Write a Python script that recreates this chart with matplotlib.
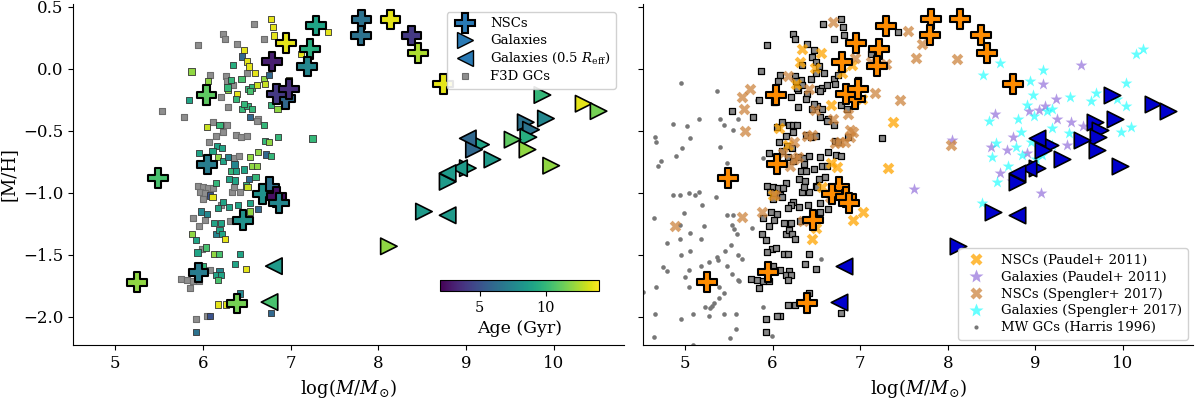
import numpy as np
import matplotlib
matplotlib.use('Agg')
import matplotlib.pyplot as plt
from matplotlib.lines import Line2D

plt.rcParams['font.family'] = ['DejaVu Serif']
plt.rcParams['mathtext.fontset'] = 'dejavuserif'

nan = np.nan

# F3D globular clusters: log mass, [M/H], age (nan = no age -> grey)
gc_logm = [6.58, 6.78, 6.80, 6.81, 7.43, 6.23, 6.25, 6.39, 6.70, 5.94, 6.47, 6.45, 6.50, 6.53, 6.59,
           6.34, 7.12, 5.87, 6.08, 6.06, 6.26, 6.32, 6.27, 6.44, 6.50, 6.34, 6.29, 6.28, 6.39, 6.38,
           6.52, 6.56, 6.62, 6.54, 6.70, 6.71, 6.75, 6.98, 5.84, 6.02, 6.21, 6.29, 6.45, 6.51, 6.56,
           6.47, 6.78, 6.85, 5.54, 5.78, 6.54, 6.63,
           6.05, 6.11, 6.19, 6.23, 6.28, 6.62, 6.70, 6.86, 7.25, 6.15, 6.23, 6.07, 6.38, 6.44, 6.50,
           6.71, 6.75, 6.16, 6.22, 6.11, 5.96, 6.17, 6.23, 6.29, 6.36, 6.41, 6.36, 6.32, 6.38, 6.47,
           6.54, 6.63, 6.72, 6.78, 6.56, 6.62, 6.30, 6.37, 6.15, 5.94, 6.00, 6.06, 6.12, 5.97, 6.02,
           6.08, 6.11, 6.00, 6.33, 6.42, 6.36, 6.53, 6.60, 6.49, 6.51, 6.23, 6.21, 6.30, 6.40, 6.54,
           6.54, 6.63, 6.17, 5.89, 5.98, 6.05, 6.02, 6.13, 6.21, 6.31,
           5.96, 5.88, 5.92, 6.15, 6.19, 6.22, 6.25, 5.99, 6.04, 5.94, 6.13, 6.18, 6.42, 6.37, 6.49,
           6.08, 6.00, 6.19, 6.15, 6.21, 6.17, 5.75, 5.82, 5.89, 5.96, 5.85, 6.42, 6.17, 6.26, 6.78,
           5.92, 6.08, 6.05, 5.92]
gc_mh = [0.36, 0.40, 0.34, 0.27, 0.30, 0.28, 0.24, 0.20, 0.24, 0.19, 0.15, 0.10, 0.06, 0.02, -0.03,
         0.03, 0.12, -0.02, -0.05, -0.10, -0.06, -0.09, -0.10, -0.08, -0.03, -0.13, -0.17, -0.15, -0.20, -0.24,
         -0.16, -0.15, -0.13, -0.18, -0.08, -0.12, -0.05, -0.09, -0.25, -0.27, -0.23, -0.31, -0.32, -0.30, -0.32,
         -0.28, -0.29, -0.32, -0.34, -0.39, -0.39, -0.40,
         -0.47, -0.43, -0.45, -0.45, -0.45, -0.42, -0.45, -0.55, -0.56, -0.54, -0.51, -0.59, -0.53, -0.55, -0.54,
         -0.58, -0.59, -0.62, -0.64, -0.66, -0.68, -0.71, -0.74, -0.71, -0.72, -0.70, -0.77, -0.82, -0.82, -0.81,
         -0.71, -0.67, -0.69, -0.70, -0.78, -0.78, -0.89, -0.90, -0.92, -0.94, -0.95, -0.96, -0.96, -0.99, -1.00,
         -1.02, -1.03, -1.05, -0.99, -0.99, -0.95, -0.89, -0.87, -0.94, -0.95, -1.07, -1.10, -1.11, -1.10, -1.08,
         -1.15, -1.13, -1.12, -1.20, -1.15, -1.17, -1.22, -1.24, -1.24, -1.23,
         -1.27, -1.33, -1.38, -1.33, -1.30, -1.33, -1.37, -1.45, -1.44, -1.48, -1.49, -1.49, -1.49, -1.57, -1.61,
         -1.62, -1.59, -1.63, -1.66, -1.66, -1.70, -1.69, -1.70, -1.71, -1.71, -1.77, -1.81, -1.90, -1.90, -1.97,
         -2.02, -1.99, -1.99, -2.12]
gc_age = [nan, 13.5, 13.5, 13.5, 13.5, nan, nan, nan, nan, nan, 13.5, 6, 13.5, 13.5, 13.5,
          9.5, 13.5, 12, nan, 12, nan, 10, nan, 10.5, nan, nan, 12, 10, 13.5, 10,
          10, 10, 13, 10.5, 12, 13, 6, 13.5, 9, nan, nan, nan, 10, 10, 10,
          10, 10, 12, nan, nan, 6, nan,
          13, nan, 10, nan, nan, nan, 10, 10, 10, nan, nan, nan, nan, nan, nan,
          10, 12, 9, 9, 9, 9, 12, 9, 7.5, nan, nan, 7.5, 10, 9, 9,
          12, 12, 6, 10, 12, 12, 9, 9, 10, nan, nan, nan, nan, nan, nan,
          5, 13.5, nan, nan, nan, nan, 6, 10, 10, 13, 9, nan, 9, 9, 9,
          12, 6, 9, nan, 7.5, 7.5, nan, 9, 9, nan,
          nan, 12, 9, 7.5, 9, 9, 13.5, nan, 10.5, 9, 12, 10.5, 9, 9, 13.5,
          nan, 10, 7.5, 9, 9, 10.5, nan, nan, nan, nan, nan, 7.5, 13.5, 13.5, 6,
          nan, 5, nan, 6.5]

# nuclear star clusters
nsc_logm = [6.94, 8.14, 7.81, 7.80, 7.29, 6.95, 7.22, 7.19, 6.79, 6.84, 6.98, 6.04, 6.05, 5.49,
            6.76, 6.68, 6.84, 6.87, 6.46, 5.95, 5.25, 6.39, 8.38, 8.45, 8.74]
nsc_mh = [-0.24, 0.40, 0.40, 0.27, 0.35, 0.21, 0.16, 0.02, 0.06, -0.20, -0.16, -0.21, -0.77, -0.88,
          -0.95, -1.01, -1.03, -1.08, -1.22, -1.64, -1.72, -1.89, 0.27, 0.13, -0.12]
nsc_age = [6, 13.5, 6.5, 6.5, 9, 13.5, 9.5, 7.5, 3, 4, 3.5, 11, 7, 10.5,
           6.5, 8, 2.5, 7.5, 8, 7, 12, 11.5, 4, 12.5, 13.5]

# host galaxies
gal_logm = [9.87, 10.34, 10.51, 9.91, 9.68, 9.74, 9.71, 9.53, 9.70, 9.97, 9.30, 9.17, 9.09, 9.02,
            8.79, 8.52, 8.12]
gal_mh = [-0.21, -0.28, -0.34, -0.40, -0.43, -0.49, -0.55, -0.57, -0.65, -0.78, -0.73, -0.61, -0.65,
          -0.80, -0.91, -1.15, -1.43]
gal_age = [10, 13.5, 11.5, 7.5, 6.5, 6.5, 9.5, 11, 12, 12, 8.5, 9, 6, 9, 8.5, 8.5, 12]

# galaxies within 0.5 Reff
galr_logm = [9.02, 8.92, 8.79, 8.79, 6.81, 6.76]
galr_mh = [-0.56, -0.80, -0.84, -1.18, -1.59, -1.88]
galr_age = [6, 8.5, 8.5, 8.5, 8.5, 10.5]

# Harris 1996 MW GCs
mw_logm = [4.95, 5.37, 4.86, 5.02, 5.16, 5.40, 5.44, 5.60, 5.55, 4.66, 4.67, 5.06, 4.97, 5.40, 4.90,
           4.73, 4.69, 5.48, 4.86, 4.94, 5.05, 5.11, 5.16, 5.19, 5.35, 4.65, 4.99, 5.48, 5.22, 4.94,
           5.06, 5.18, 4.79, 4.94, 5.54, 5.56, 5.59, 5.53, 5.46, 5.36, 5.38, 5.60, 5.65, 5.06, 4.95,
           4.75, 4.79, 5.05, 5.18, 5.27, 5.48, 5.54, 5.60, 5.62, 5.00, 5.04, 4.67, 5.39, 5.44, 5.39,
           5.33, 5.31, 5.28, 5.23, 5.27, 5.09, 4.66, 4.95, 5.45, 5.58, 5.58, 5.51, 4.64, 5.09, 4.52,
           5.89, 5.99, 6.55, 5.89, 5.77, 5.82, 5.55]
mw_mh = [-0.11, -0.18, -0.44, -0.46, -0.40, -0.40, -0.45, -0.40, -0.49, -0.55, -0.59, -0.56, -0.64, -0.63, -0.70,
         -0.74, -0.78, -0.76, -1.02, -1.02, -1.00, -1.02, -0.99, -1.10, -1.03, -1.20, -1.16, -1.18, -1.27, -1.26,
         -1.32, -1.37, -1.40, -1.37, -1.26, -1.29, -1.33, -1.42, -1.47, -1.52, -1.54, -1.50, -1.53, -1.47, -1.50,
         -1.60, -1.63, -1.62, -1.59, -1.56, -1.59, -1.65, -1.70, -1.71, -1.68, -1.76, -1.76, -1.76, -1.81, -1.85,
         -1.89, -1.91, -1.93, -1.92, -1.99, -1.98, -1.98, -2.02, -1.98, -1.98, -2.10, -2.17, -2.16, -2.23, -1.80,
         -1.92, -2.15, -1.53, -0.72, -1.28, -0.25, -1.18]

# Paudel+ 2011
pau_nsc_logm = [6.34, 6.31, 6.55, 6.48, 6.27, 6.67, 7.02, 6.91, 6.79, 7.38, 7.32, 6.07, 6.17, 6.67,
                6.73, 6.56, 6.01, 6.92, 7.03, 6.45, 6.50]
pau_nsc_mh = [0.16, 0.06, 0.13, 0.01, -0.12, -0.29, -0.24, 0.03, -0.03, -0.43, -0.80, -0.48, -0.61, -0.76,
              -0.79, -0.95, -1.02, -1.22, -1.15, -1.37, -1.28]
pau_gal_logm = [9.52, 9.09, 9.24, 8.54, 9.11, 9.04, 8.93, 9.25, 9.41, 9.54, 8.75, 8.49, 8.68, 8.05,
                8.90, 9.36, 8.60, 8.73, 8.82, 9.07, 7.61]
pau_gal_mh = [0.03, -0.12, -0.24, -0.36, -0.30, -0.33, -0.34, -0.40, -0.43, -0.46, -0.55, -0.63, -0.65, -0.57,
              -0.68, -0.61, -0.84, -0.90, -0.87, -1.00, -0.97]

# Spengler+ 2017
spe_nsc_logm = [6.69, 7.55, 7.64, 6.94, 7.12, 7.30, 6.18, 5.74, 5.65, 5.67, 5.68, 6.41, 7.17, 7.45,
                6.48, 6.69, 6.86, 6.88, 6.92, 6.88, 6.39, 6.45, 6.24, 6.71, 6.77, 6.83, 6.12, 6.24,
                6.29, 6.20, 6.03, 5.88, 5.65, 4.89, 6.35, 6.65, 7.71, 8.11, 8.04]
spe_nsc_mh = [0.38, 0.31, 0.09, 0.09, 0.06, 0.04, -0.06, -0.16, -0.23, -0.32, -0.50, -0.16, -0.19, -0.25,
              -0.33, -0.40, -0.36, -0.49, -0.51, -0.55, -0.54, -0.53, -0.59, -0.60, -0.59, -0.59, -0.68, -0.73,
              -0.71, -0.78, -1.02, -1.15, -1.19, -1.27, -1.23, -1.03, 0.20, 0.08, -0.61]
spe_gal_logm = [10.23, 10.15, 8.60, 8.40, 9.09, 8.94, 10.04, 9.69, 8.97, 9.39, 9.64, 9.93, 10.04, 8.90,
                9.19, 9.13, 8.98, 8.80, 8.47, 9.19, 8.84, 9.38, 9.98, 10.09, 8.55, 8.78, 8.95, 8.50,
                8.85, 9.01, 8.69, 8.56, 8.39, 9.19, 9.08]
spe_gal_mh = [0.16, 0.12, 0.05, -0.05, -0.01, -0.10, -0.11, -0.19, -0.21, -0.23, -0.26, -0.24, -0.30, -0.29,
              -0.32, -0.34, -0.38, -0.40, -0.42, -0.48, -0.51, -0.52, -0.51, -0.47, -0.60, -0.63, -0.59, -0.71,
              -0.69, -0.73, -0.78, -0.91, -1.08, -0.61, -0.69]

gc_logm = np.array(gc_logm)
gc_mh = np.array(gc_mh)
gc_age = np.array(gc_age)
has_age = ~np.isnan(gc_age)

cmap = 'viridis'
vmin, vmax = 2, 14

fig = plt.figure(figsize=(12, 3.98), dpi=100)
W, H = 1200, 398
ax1 = fig.add_axes([73 / W, 1 - 345 / H, 551 / W, 341 / H])
ax2 = fig.add_axes([643 / W, 1 - 345 / H, 550 / W, 341 / H], sharey=ax1)

# ---- left panel
ax1.scatter(gc_logm[~has_age], gc_mh[~has_age], s=20, marker='s', c='#8e8e8e',
            edgecolors='#6e6e6e', linewidths=0.8, zorder=2)
sc = ax1.scatter(gc_logm[has_age], gc_mh[has_age], s=20, marker='s', c=gc_age[has_age],
                 cmap=cmap, vmin=vmin, vmax=vmax, edgecolors='#333333', linewidths=0.6, zorder=2)
ax1.scatter(gal_logm, gal_mh, s=140, marker='>', c=gal_age, cmap=cmap, vmin=vmin, vmax=vmax,
            edgecolors='k', linewidths=1.2, zorder=3)
ax1.scatter(galr_logm, galr_mh, s=140, marker='<', c=galr_age, cmap=cmap, vmin=vmin, vmax=vmax,
            edgecolors='k', linewidths=1.2, zorder=3)
ax1.scatter(nsc_logm, nsc_mh, s=200, marker='P', c=nsc_age, cmap=cmap, vmin=vmin, vmax=vmax,
            edgecolors='k', linewidths=1.5, zorder=4)

hcol = '#2a7ab5'
h1 = [Line2D([], [], ls='', marker='P', ms=14, mfc=hcol, mec='k', mew=1.5),
      Line2D([], [], ls='', marker='>', ms=11, mfc=hcol, mec='k', mew=1.0),
      Line2D([], [], ls='', marker='<', ms=11, mfc=hcol, mec='k', mew=1.0),
      Line2D([], [], ls='', marker='s', ms=4, mfc='#8e8e8e', mec='#6e6e6e', mew=0.8)]
ax1.legend(h1, ['NSCs', 'Galaxies', r'Galaxies (0.5 $R_{\rm eff}$)', 'F3D GCs'],
           loc='upper right', fontsize=9.5, handletextpad=0.9, borderaxespad=0.6,
           labelspacing=0.3, framealpha=0.9)

cax = fig.add_axes([440 / W, 1 - 291 / H, 159 / W, 11 / H])
cb = fig.colorbar(sc, cax=cax, orientation='horizontal', ticks=[5, 10])
cb.set_label('Age (Gyr)', fontsize=12.5)
cb.ax.tick_params(labelsize=10.5)

# ---- right panel
ax2.scatter(mw_logm, mw_mh, s=11, marker='o', c='#777777', linewidths=0, zorder=1)
ax2.scatter(gc_logm, gc_mh, s=24, marker='s', c='#888888', edgecolors='k', linewidths=0.9, zorder=2)
ax2.scatter(pau_nsc_logm, pau_nsc_mh, s=70, marker='X', c='orange', alpha=0.75, linewidths=0, zorder=3)
ax2.scatter(pau_gal_logm, pau_gal_mh, s=80, marker='*', c='mediumpurple', alpha=0.7, linewidths=0, zorder=3)
ax2.scatter(spe_nsc_logm, spe_nsc_mh, s=70, marker='X', c='peru', alpha=0.75, linewidths=0, zorder=3)
ax2.scatter(spe_gal_logm, spe_gal_mh, s=80, marker='*', c='cyan', alpha=0.6, linewidths=0, zorder=3)
ax2.scatter(gal_logm, gal_mh, s=140, marker='>', c='mediumblue', edgecolors='k', linewidths=1.2, zorder=4)
ax2.scatter(galr_logm, galr_mh, s=140, marker='<', c='mediumblue', edgecolors='k', linewidths=1.2, zorder=4)
ax2.scatter(nsc_logm, nsc_mh, s=200, marker='P', c='darkorange', edgecolors='k', linewidths=1.5, zorder=5)

h2 = [Line2D([], [], ls='', marker='X', ms=8, mfc='orange', mec='none', alpha=0.75),
      Line2D([], [], ls='', marker='*', ms=10, mfc='mediumpurple', mec='none', alpha=0.7),
      Line2D([], [], ls='', marker='X', ms=8, mfc='peru', mec='none', alpha=0.75),
      Line2D([], [], ls='', marker='*', ms=10, mfc='cyan', mec='none', alpha=0.6),
      Line2D([], [], ls='', marker='o', ms=3, mfc='#777777', mec='none')]
ax2.legend(h2, ['NSCs (Paudel+ 2011)', 'Galaxies (Paudel+ 2011)', 'NSCs (Spengler+ 2017)',
                'Galaxies (Spengler+ 2017)', 'MW GCs (Harris 1996)'],
           loc='lower right', fontsize=9.5, handletextpad=0.9, borderaxespad=0.4,
           labelspacing=0.3, framealpha=0.9)

for ax in (ax1, ax2):
    ax.set_xlim(4.52, 10.80)
    ax.set_xticks([5, 6, 7, 8, 9, 10])
    ax.spines['top'].set_visible(False)
    ax.spines['right'].set_visible(False)
    ax.tick_params(labelsize=12)
    ax.set_xlabel(r'log($M/M_{\odot}$)', fontsize=13)
ax1.set_ylim(-2.226, 0.524)
ax1.set_yticks([-2.0, -1.5, -1.0, -0.5, 0.0, 0.5])
ax1.set_ylabel('[M/H]', fontsize=13)
plt.setp(ax2.get_yticklabels(), visible=False)

fig.savefig('out.png', dpi=100)
